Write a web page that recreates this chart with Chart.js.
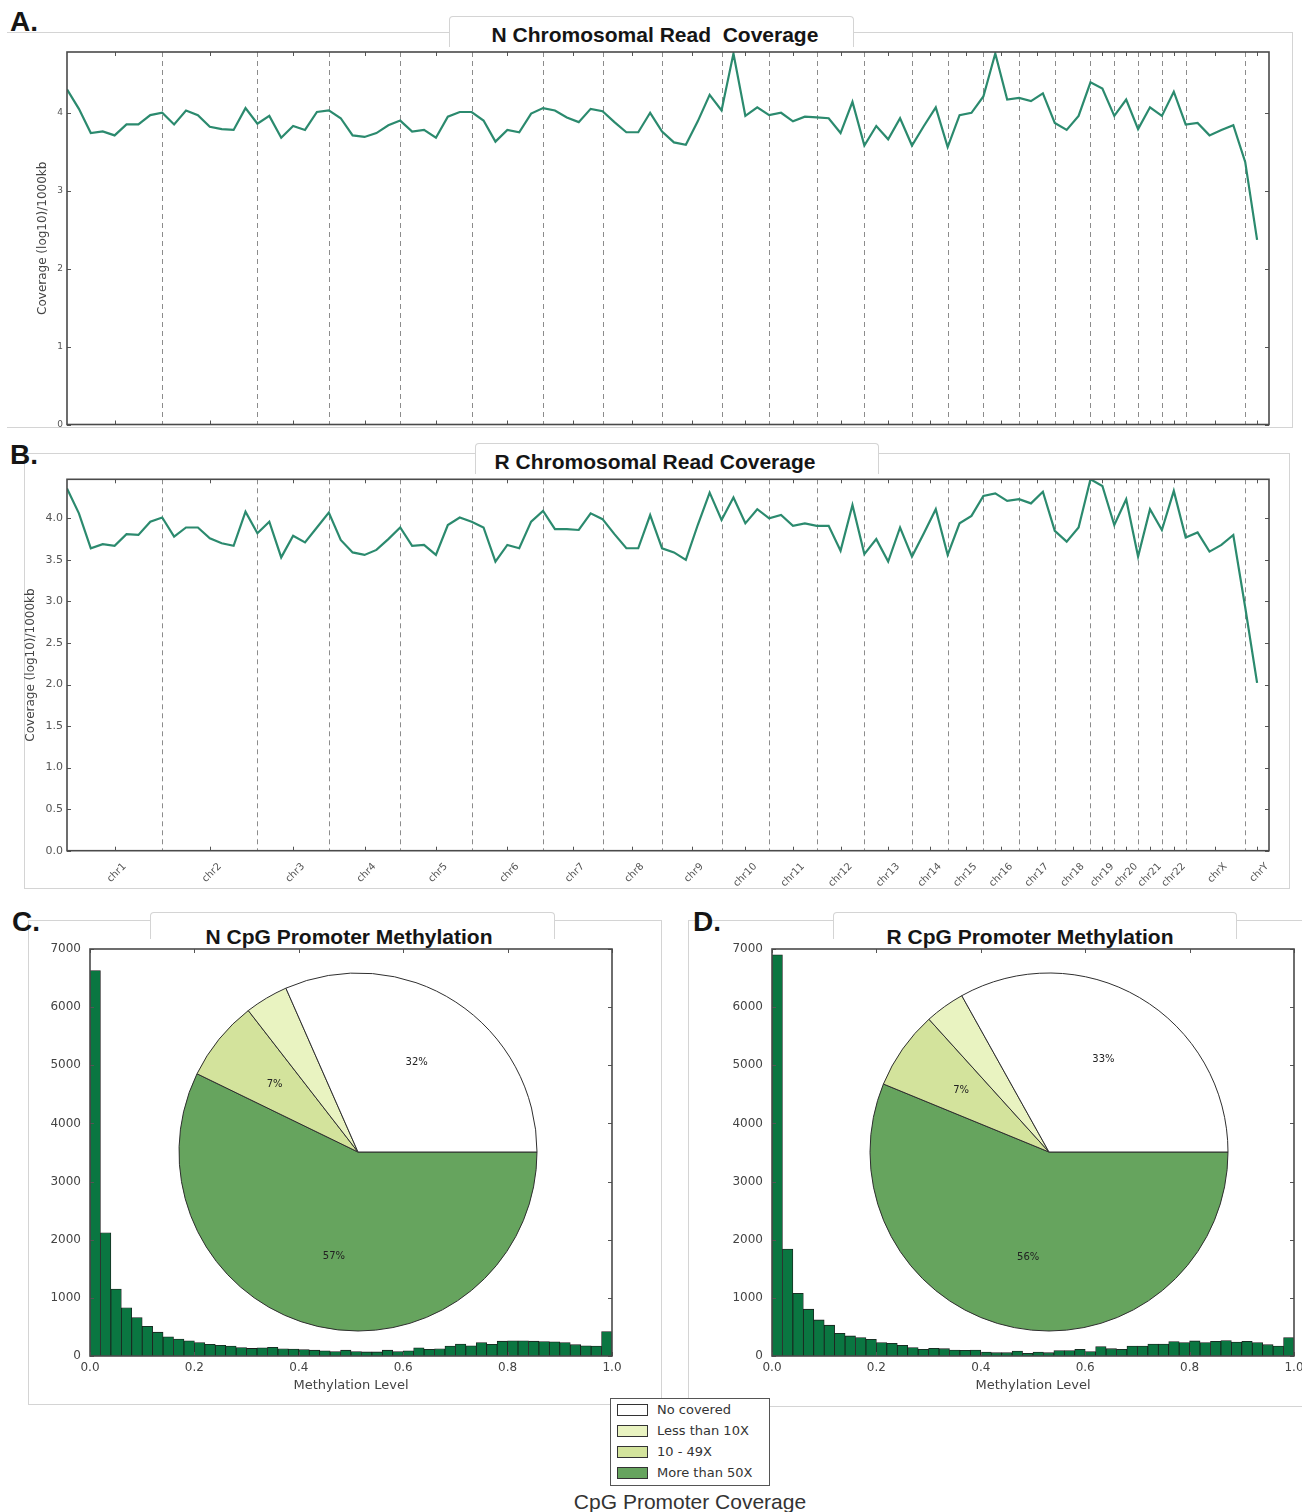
<!DOCTYPE html>
<html lang="en">
<head>
<meta charset="UTF-8">
<title>Read coverage and CpG promoter methylation</title>
<script src="https://cdn.jsdelivr.net/npm/chart.js@4.4.1/dist/chart.umd.min.js"></script>
<style>
    body { margin: 0; background: #fff; font-family: "DejaVu Sans", sans-serif; }
    #page { position: relative; width: 1302px; height: 1512px; overflow: hidden; background: #fff; }
    canvas { position: absolute; }
    .frame { position: absolute; border: 1px solid #d4d4d4; }
    .tab { position: absolute; border: 1px solid #d4d4d4; border-bottom: none; background: #fff; border-radius: 4px 4px 0 0; }
    .title { position: absolute; font: bold 21px "Liberation Sans", Arial, sans-serif; color: #151515; white-space: pre; transform: translate(-50%, -50%); }
    .letter { position: absolute; font: bold 28px "Liberation Sans", Arial, sans-serif; color: #151515; }
    #legend { position: absolute; left: 610px; top: 1398px; width: 158px; height: 86px; border: 1px solid #555; background: #fff; }
    .row { position: absolute; left: 6px; height: 14px; font-size: 13px; color: #333; line-height: 14px; }
    .swatch { position: absolute; left: 0; top: 1px; width: 29px; height: 10px; border: 1px solid #333; }
    .row span { position: absolute; left: 40px; white-space: nowrap; }
    #caption { position: absolute; left: 690px; top: 1502px; transform: translate(-50%, -50%); font: 21px "Liberation Sans", Arial, sans-serif; color: #333; white-space: nowrap; }
</style>
</head>
<body>
<div id="page">
    <!-- panel frames -->
    <div class="frame" style="left:7px;top:32px;width:1285px;height:394px;border-left:none"></div>
    <div class="tab" style="left:449px;top:16px;width:403px;height:30px"></div>
    <div class="frame" style="left:24px;top:453px;width:1264px;height:434px"></div>
    <div class="tab" style="left:475px;top:443px;width:402px;height:30px"></div>
    <div class="frame" style="left:28px;top:920px;width:632px;height:483px"></div>
    <div class="tab" style="left:150px;top:912px;width:403px;height:26px"></div>
    <div class="frame" style="left:688px;top:920px;width:640px;height:485px"></div>
    <div class="tab" style="left:833px;top:912px;width:402px;height:26px"></div>

    <div class="letter" style="left:10px;top:6px">A.</div>
    <div class="letter" style="left:10px;top:439px">B.</div>
    <div class="letter" style="left:12px;top:906px">C.</div>
    <div class="letter" style="left:693px;top:906px">D.</div>

    <div class="title" style="left:655px;top:35px">N Chromosomal Read  Coverage</div>
    <div class="title" style="left:655px;top:462px">R Chromosomal Read Coverage</div>
    <div class="title" style="left:349px;top:937px">N CpG Promoter Methylation</div>
    <div class="title" style="left:1030px;top:937px">R CpG Promoter Methylation</div>

    <canvas id="covN" width="1302" height="440" style="left:0;top:0"></canvas>
    <canvas id="covR" width="1302" height="460" style="left:0;top:440px"></canvas>
    <canvas id="histN" width="600" height="457" style="left:30px;top:940px"></canvas>
    <canvas id="histR" width="600" height="457" style="left:712px;top:940px"></canvas>
    <canvas id="pieN" width="380" height="380" style="left:168px;top:962px"></canvas>
    <canvas id="pieR" width="380" height="380" style="left:859px;top:962px"></canvas>

    <div id="legend"></div>
    <div id="caption">CpG Promoter Coverage</div>
</div>

<script>
    // ---- data ----
    const chromosomes = ['chr1', 'chr2', 'chr3', 'chr4', 'chr5', 'chr6', 'chr7', 'chr8', 'chr9', 'chr10', 'chr11', 'chr12',
        'chr13', 'chr14', 'chr15', 'chr16', 'chr17', 'chr18', 'chr19', 'chr20', 'chr21', 'chr22', 'chrX', 'chrY'];
    const binsPerChrom = [8, 8, 6, 6, 6, 6, 5, 5, 5, 4, 4, 4, 4, 3, 3, 3, 3, 3, 2, 2, 2, 2, 5, 2];

    const coverageN = [
        4.30, 4.05, 3.74, 3.76, 3.71, 3.85, 3.85, 3.97,
        4.00, 3.85, 4.03, 3.97, 3.82, 3.79, 3.78, 4.06,
        3.86, 3.96, 3.68, 3.83, 3.78, 4.01,
        4.03, 3.93, 3.71, 3.69, 3.74, 3.84,
        3.90, 3.76, 3.78, 3.68, 3.95, 4.01,
        4.01, 3.90, 3.63, 3.78, 3.75, 3.99,
        4.06, 4.03, 3.94, 3.88, 4.05,
        4.02, 3.88, 3.75, 3.75, 4.00,
        3.76, 3.62, 3.59, 3.89, 4.23,
        4.03, 4.76, 3.96, 4.07,
        3.97, 4.00, 3.89, 3.95,
        3.94, 3.93, 3.74, 4.14,
        3.58, 3.83, 3.66, 3.93,
        3.58, 3.83, 4.07,
        3.56, 3.97, 4.00,
        4.21, 4.76, 4.17,
        4.19, 4.15, 4.25,
        3.87, 3.78, 3.96,
        4.39, 4.31,
        3.96, 4.17,
        3.79, 4.07,
        3.96, 4.27,
        3.85, 3.87, 3.71, 3.78, 3.84,
        3.37, 2.37];

    const coverageR = [
        4.36, 4.06, 3.64, 3.69, 3.67, 3.81, 3.80, 3.96,
        4.01, 3.78, 3.89, 3.89, 3.76, 3.70, 3.67, 4.08,
        3.82, 3.96, 3.53, 3.79, 3.71, 3.89,
        4.07, 3.74, 3.59, 3.56, 3.62, 3.75,
        3.89, 3.67, 3.68, 3.56, 3.92, 4.01,
        3.96, 3.89, 3.48, 3.68, 3.64, 3.96,
        4.09, 3.87, 3.87, 3.86, 4.06,
        3.99, 3.81, 3.64, 3.64, 4.04,
        3.64, 3.59, 3.50, 3.92, 4.31,
        3.98, 4.25, 3.94, 4.11,
        4.00, 4.04, 3.91, 3.94,
        3.91, 3.91, 3.61, 4.16,
        3.57, 3.75, 3.48, 3.89,
        3.54, 3.82, 4.11,
        3.56, 3.94, 4.03,
        4.27, 4.30, 4.21,
        4.23, 4.18, 4.32,
        3.85, 3.72, 3.89,
        4.47, 4.39,
        3.92, 4.23,
        3.54, 4.11,
        3.86, 4.33,
        3.77, 3.83, 3.60, 3.68, 3.80,
        2.93, 2.02];

    // 50 bins over methylation level 0..1
    const methylationN = [6630, 2120, 1150, 830, 660, 510, 410, 330, 290, 260,
        230, 200, 185, 170, 145, 130, 140, 150, 125, 120,
        110, 100, 90, 75, 100, 75, 70, 70, 100, 75,
        90, 140, 115, 125, 170, 205, 175, 230, 200, 255,
        260, 260, 255, 250, 245, 230, 195, 175, 170, 420];
    const methylationR = [6900, 1840, 1080, 805, 620, 530, 390, 345, 316, 287,
        230, 218, 184, 144, 115, 132, 126, 103, 98, 103,
        69, 57, 57, 86, 46, 69, 57, 92, 92, 115,
        75, 161, 126, 115, 172, 172, 207, 207, 247, 230,
        259, 230, 253, 264, 241, 253, 230, 195, 172, 316];

    const coverageLabels = ['No covered', 'Less than 10X', '10 - 49X', 'More than 50X'];
    const coverageSharesN = [31.6, 3.9, 7.3, 57.2];
    const coverageSharesR = [33.1, 3.6, 7.1, 56.2];

    // ---- derived positions along the genome axis ----
    const chromStart = [];
    let total = 0;
    binsPerChrom.forEach(n => { chromStart.push(total); total += n; });
    const chromCenters = binsPerChrom.map((n, i) => chromStart[i] + n / 2);
    const chromBounds = chromStart.slice(1);

    const sliceColors = ['#ffffff', '#e9f3c1', '#d3e39c', '#66a45e'];
    const lineColor = '#2b8a6e';
    const barColor = '#0a7641';

    Chart.defaults.font.family = '"DejaVu Sans", sans-serif';
    Chart.defaults.animation = false;

    // plot box + inward tick marks, like the original
    const frameBox = {
        id: 'frameBox',
        afterDraw(chart) {
            const {ctx, chartArea: a, scales} = chart;
            ctx.save();
            ctx.strokeStyle = '#555';
            ctx.lineWidth = 1;
            scales.x.ticks.forEach(t => {
                const p = Math.round(scales.x.getPixelForValue(t.value)) + 0.5;
                ctx.beginPath();
                ctx.moveTo(p, a.bottom); ctx.lineTo(p, a.bottom - 4);
                ctx.moveTo(p, a.top); ctx.lineTo(p, a.top + 4);
                ctx.stroke();
            });
            scales.y.ticks.forEach(t => {
                const p = Math.round(scales.y.getPixelForValue(t.value)) + 0.5;
                ctx.beginPath();
                ctx.moveTo(a.left, p); ctx.lineTo(a.left + 4, p);
                ctx.moveTo(a.right, p); ctx.lineTo(a.right - 4, p);
                ctx.stroke();
            });
            ctx.lineWidth = 1.6;
            ctx.strokeStyle = '#4a4a4a';
            ctx.strokeRect(a.left, a.top, a.width, a.height);
            ctx.restore();
        }
    };

    // dashed chromosome boundaries
    const chromLines = {
        id: 'chromLines',
        beforeDatasetsDraw(chart) {
            const {ctx, chartArea: a, scales: {x}} = chart;
            ctx.save();
            ctx.strokeStyle = '#8c8c8c';
            ctx.lineWidth = 1;
            ctx.setLineDash([5, 4]);
            chromBounds.forEach(b => {
                const p = Math.round(x.getPixelForValue(b)) + 0.5;
                ctx.beginPath();
                ctx.moveTo(p, a.top); ctx.lineTo(p, a.bottom);
                ctx.stroke();
            });
            ctx.restore();
        }
    };

    function coverageChart(id, values, cfg) {
        return new Chart(document.getElementById(id), {
            type: 'line',
            data: {
                datasets: [{
                    data: values.map((v, i) => ({x: i, y: v})),
                    borderColor: lineColor,
                    borderWidth: 2.2,
                    pointRadius: 0,
                    tension: 0,
                    fill: false
                }]
            },
            options: {
                responsive: false,
                layout: {padding: cfg.padding},
                plugins: {legend: {display: false}, tooltip: {enabled: false}},
                scales: {
                    x: {
                        type: 'linear', min: 0, max: total,
                        afterBuildTicks: s => { s.ticks = chromCenters.map(v => ({value: v})); },
                        afterFit: s => { s.height = cfg.xHeight; },
                        grid: {display: false}, border: {display: false},
                        ticks: {
                            display: cfg.showNames, autoSkip: false,
                            minRotation: 45, maxRotation: 45, labelOffset: 10, padding: 2,
                            color: '#555', font: {size: 10},
                            callback: (v, i) => chromosomes[i]
                        }
                    },
                    y: {
                        min: 0, max: cfg.yMax,
                        afterFit: s => { s.width = cfg.yWidth; },
                        grid: {display: false, drawTicks: false}, border: {display: false},
                        ticks: {
                            stepSize: cfg.yStep, includeBounds: false, padding: 4,
                            color: '#555', font: {size: cfg.tickSize},
                            callback: v => cfg.yStep < 1 ? v.toFixed(1) : String(v)
                        },
                        title: {display: true, text: 'Coverage (log10)/1000kb', color: '#444', font: {size: 12}}
                    }
                }
            },
            plugins: [chromLines, frameBox]
        });
    }

    coverageChart('covN', coverageN, {
        padding: {left: 32, right: 33, top: 52, bottom: 0},
        yWidth: 35, xHeight: 15.5, yMax: 4.78, yStep: 1, tickSize: 9, showNames: false
    });
    coverageChart('covR', coverageR, {
        padding: {left: 20, right: 33, top: 39.3, bottom: 0},
        yWidth: 47, xHeight: 49.3, yMax: 4.47, yStep: 0.5, tickSize: 11, showNames: true
    });

    function histChart(id, counts) {
        const n = counts.length;
        return new Chart(document.getElementById(id), {
            type: 'bar',
            data: {
                datasets: [{
                    data: counts.map((c, k) => ({x: (k + 0.5) / n, y: c})),
                    backgroundColor: barColor,
                    borderColor: '#1b1b1b',
                    borderWidth: 0.8,
                    barPercentage: 1,
                    categoryPercentage: 1
                }]
            },
            options: {
                responsive: false,
                layout: {padding: {left: 0, right: 18, top: 9, bottom: 0}},
                plugins: {legend: {display: false}, tooltip: {enabled: false}},
                scales: {
                    x: {
                        type: 'linear', min: 0, max: 1, offset: false,
                        afterFit: s => { s.height = 41; },
                        grid: {display: false, offset: false, drawTicks: false}, border: {display: false},
                        ticks: {stepSize: 0.2, padding: 5, color: '#444', font: {size: 12}, callback: v => v.toFixed(1)},
                        title: {display: true, text: 'Methylation Level', color: '#444', font: {size: 13}}
                    },
                    y: {
                        min: 0, max: 7000,
                        // top label sits on the frame edge, so drop the extra label padding
                        afterFit: s => { s.width = 60; s.paddingTop = 0; s.paddingBottom = 0; },
                        grid: {display: false, drawTicks: false}, border: {display: false},
                        ticks: {stepSize: 1000, padding: 9, color: '#444', font: {size: 12}, callback: v => String(v)}
                    }
                }
            },
            plugins: [frameBox]
        });
    }

    histChart('histN', methylationN);
    histChart('histR', methylationR);

    // percentage labels at 0.6 of the radius, small slices left unlabelled
    const pctLabels = {
        id: 'pctLabels',
        afterDatasetsDraw(chart) {
            const {ctx} = chart;
            const meta = chart.getDatasetMeta(0);
            const vals = chart.data.datasets[0].data;
            ctx.save();
            ctx.fillStyle = '#222';
            ctx.font = '10px "DejaVu Sans", sans-serif';
            ctx.textAlign = 'center';
            ctx.textBaseline = 'middle';
            meta.data.forEach((arc, i) => {
                if (vals[i] < 5) return;
                const {x, y, startAngle, endAngle, outerRadius} = arc.getProps(['x', 'y', 'startAngle', 'endAngle', 'outerRadius'], true);
                const mid = (startAngle + endAngle) / 2;
                ctx.fillText(Math.round(vals[i]) + '%', x + Math.cos(mid) * outerRadius * 0.6, y + Math.sin(mid) * outerRadius * 0.6);
            });
            ctx.restore();
        }
    };

    // the original runs counter-clockwise from 3 o'clock; Chart.js runs clockwise, so reverse the order
    function pieChart(id, shares) {
        return new Chart(document.getElementById(id), {
            type: 'pie',
            data: {
                labels: coverageLabels.slice().reverse(),
                datasets: [{
                    data: shares.slice().reverse(),
                    backgroundColor: sliceColors.slice().reverse(),
                    borderColor: '#2e2e2e',
                    borderWidth: 1
                }]
            },
            options: {
                responsive: false,
                rotation: 90,
                radius: 179,
                plugins: {legend: {display: false}, tooltip: {enabled: false}}
            },
            plugins: [pctLabels]
        });
    }

    pieChart('pieN', coverageSharesN);
    pieChart('pieR', coverageSharesR);

    // shared legend box
    const legend = document.getElementById('legend');
    coverageLabels.forEach((label, i) => {
        const row = document.createElement('div');
        row.className = 'row';
        row.style.top = (4 + i * 21) + 'px';
        row.innerHTML = '<div class="swatch" style="background:' + sliceColors[i] + '"></div><span>' + label + '</span>';
        legend.appendChild(row);
    });
</script>
</body>
</html>
